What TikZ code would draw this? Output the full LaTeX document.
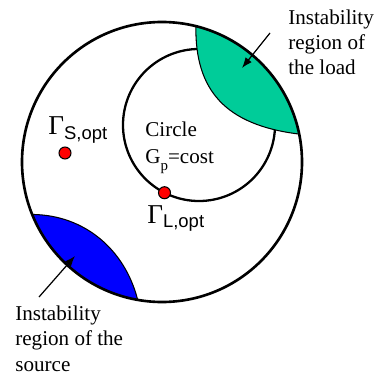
\documentclass[tikz,border=0pt]{standalone}
\usepackage{fontspec}
\setmainfont{Liberation Serif}
\setsansfont{Liberation Sans}
\usetikzlibrary{arrows.meta,calc}

\definecolor{loadgreen}{RGB}{0,204,153}
\definecolor{srcblue}{RGB}{0,0,255}
\newcommand{\gopt}[1]{{\fontsize{15.5}{15.5}\selectfont Γ}\raisebox{-2.8pt}{\sffamily\fontsize{10.5}{10.5}\selectfont #1,opt}}

\begin{document}
\begin{tikzpicture}[x=0.2mm, y=0.2mm,
    txt/.style={font=\fontsize{12}{14.5}\selectfont, align=left, inner sep=0pt, anchor=base west},
    gam/.style={inner sep=0pt, anchor=base west},
    dot/.style={circle, fill=red, draw=black, line width=0.6pt, minimum size=2.4mm, inner sep=0pt},
    arr/.style={-{Latex[length=6pt,width=4.5pt]}, line width=0.7pt}]
    \useasboundingbox (0,0) rectangle (380,374);

    % Centres of the two circles
    \coordinate (O) at (162,212);
    \coordinate (I) at (199,249);

    % Circle Gp = cost
    \draw[line width=1.3pt] (I) circle (76);

    % Instability region of the load
    \coordinate (gtop) at ($(O)+(76:140)$);
    \filldraw[fill=loadgreen, draw=black, line width=0.6pt] (gtop)
        arc[start angle=76, end angle=11.5, radius=140]
        .. controls (225,249) and (195,284) .. (gtop) -- cycle;

    % Instability region of the source
    \coordinate (bleft) at ($(O)+(202:140)$);
    \filldraw[fill=srcblue, draw=black, line width=0.6pt] (bleft)
        arc[start angle=202, end angle=260, radius=140]
        .. controls (125,124) and (85,159) .. (bleft) -- cycle;

    % Outer circle
    \draw[line width=1.5pt] (O) circle (140);

    % Optimum points
    \node[dot] (sopt) at (65,221) {};
    \node[dot] (lopt) at ($(I)+(243:76)$) {};
    \node[gam] (slbl) at (48,239) {\gopt{S}};
    \node[gam] (llbl) at (147,151) {\gopt{L}};

    % Texts (base = last line)
    \node[txt] (circ) at (145,237) {Circle};
    \node[txt] (gp) at (145,210) {G\raisebox{-3.5pt}{\fontsize{8.5}{8.5}\selectfont p}=cost};
    \node[txt] (loadtxt) at (288,299) {Instability\\region of\\the load};
    \node[txt] (srctxt) at (15,3) {Instability\\region of the\\source};

    % Arrows
    \coordinate (loadtail) at (270,341);
    \coordinate (loadtip) at (242,306);
    \draw[arr] (loadtail) -- (loadtip);
    \coordinate (srctail) at (39,77);
    \coordinate (srctip) at (75,118);
    \draw[arr] (srctail) -- (srctip);
\end{tikzpicture}
\end{document}
